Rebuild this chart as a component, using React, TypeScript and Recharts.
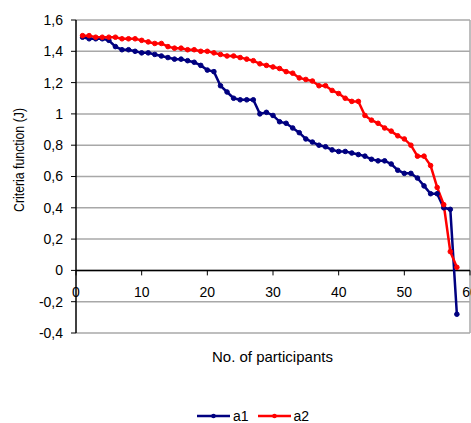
import React from "react";
import {
  LineChart,
  Line,
  XAxis,
  YAxis,
  CartesianGrid,
  ReferenceLine,
} from "recharts";

// participant number (x) and criteria function values per run
const participants = [
  1, 2, 3, 4, 5, 6, 7, 8, 9, 10, 11, 12, 13, 14, 15, 16, 17, 18, 19, 20,
  21, 22, 23, 24, 25, 26, 27, 28, 29, 30, 31, 32, 33, 34, 35, 36, 37, 38, 39, 40,
  41, 42, 43, 44, 45, 46, 47, 48, 49, 50, 51, 52, 53, 54, 55, 56, 57, 58,
];

const a1 = [
  1.49, 1.48, 1.48, 1.48, 1.47, 1.43, 1.41, 1.41, 1.4, 1.39, 1.39, 1.38, 1.37, 1.36, 1.35, 1.35, 1.34, 1.33, 1.31, 1.28,
  1.27, 1.18, 1.14, 1.1, 1.09, 1.09, 1.09, 1.0, 1.01, 0.99, 0.95, 0.94, 0.91, 0.88, 0.84, 0.82, 0.8, 0.79, 0.77, 0.76,
  0.76, 0.75, 0.74, 0.73, 0.71, 0.7, 0.7, 0.68, 0.64, 0.62, 0.62, 0.59, 0.54, 0.49, 0.49, 0.4, 0.39, -0.28,
];

const a2 = [
  1.5, 1.5, 1.49, 1.49, 1.49, 1.49, 1.48, 1.48, 1.48, 1.47, 1.46, 1.45, 1.45, 1.43, 1.42, 1.42, 1.41, 1.41, 1.4, 1.4,
  1.39, 1.38, 1.37, 1.37, 1.36, 1.35, 1.34, 1.32, 1.31, 1.3, 1.29, 1.27, 1.26, 1.23, 1.22, 1.21, 1.18, 1.18, 1.15, 1.13,
  1.1, 1.08, 1.08, 0.99, 0.96, 0.94, 0.91, 0.89, 0.86, 0.84, 0.8, 0.73, 0.73, 0.67, 0.53, 0.42, 0.12, 0.02,
];

const xTicks = [0, 10, 20, 30, 40, 50, 60];
const yTicks = [-0.4, -0.2, 0, 0.2, 0.4, 0.6, 0.8, 1, 1.2, 1.4, 1.6];

const data = participants.map((n, i) => ({ n, a1: a1[i], a2: a2[i] }));

const FONT = "'Liberation Sans', Arial, sans-serif";
const TOP = 20;
const PLOT_H = 313;
// pixel row of the y = 0 line, where excel puts the category axis
const ZERO_Y = TOP + PLOT_H * (1.6 / 2.0);

const fmtY = (v: number) => {
  const s = (Math.round(v * 10) / 10).toString();
  return s.replace(".", ",");
};

const XTick = (props: any) => {
  const { x, payload } = props;
  return (
    <g>
      <line x1={x} x2={x} y1={ZERO_Y} y2={ZERO_Y + 5} stroke="#000" strokeWidth={1} />
      <text x={x} y={ZERO_Y + 27} textAnchor="middle" fontSize={14} fontFamily={FONT} fill="#000">
        {payload.value}
      </text>
    </g>
  );
};

const YLabel = () => (
  <text
    x={24}
    y={160}
    transform="rotate(-90 24 160)"
    textAnchor="middle"
    fontSize={14}
    fontFamily={FONT}
    fill="#000"
    textLength={104}
    lengthAdjust="spacingAndGlyphs"
  >
    Criteria function (J)
  </text>
);

const series = [
  { name: "a1", color: "#000080" },
  { name: "a2", color: "#ff0000" },
];

export default function App() {
  return (
    <div style={{ position: "absolute", left: 0, top: 0, width: 471, height: 423, background: "#fff", overflow: "hidden" }}>
      <LineChart width={471} height={423} data={data} margin={{ top: TOP, right: 1, left: 0, bottom: 60 }}>
        <CartesianGrid horizontal vertical={false} stroke="#a8a8a8" strokeWidth={1.5} />
        <XAxis
          dataKey="n"
          type="number"
          domain={[0, 60]}
          ticks={xTicks}
          axisLine={false}
          tickLine={false}
          height={30}
          tick={<XTick />}
          interval={0}
        />
        <YAxis
          type="number"
          domain={[-0.4, 1.6]}
          ticks={yTicks}
          width={76}
          interval={0}
          tickFormatter={fmtY}
          tickSize={5}
          tickMargin={8}
          axisLine={{ stroke: "#000", strokeWidth: 1.5 }}
          tickLine={{ stroke: "#000" }}
          tick={{ fontSize: 14, fontFamily: FONT, fill: "#000" }}
          label={<YLabel />}
        />
        <ReferenceLine x={60} stroke="#a8a8a8" strokeWidth={1.5} />
        <ReferenceLine y={0} stroke="#000" strokeWidth={1.5} />
        <Line
          type="linear"
          dataKey="a1"
          stroke="#000080"
          strokeWidth={2.5}
          dot={{ r: 2.3, fill: "#000080", stroke: "#000080", strokeWidth: 1 }}
          isAnimationActive={false}
        />
        <Line
          type="linear"
          dataKey="a2"
          stroke="#ff0000"
          strokeWidth={2.5}
          dot={{ r: 2.3, fill: "#ff0000", stroke: "#ff0000", strokeWidth: 1 }}
          isAnimationActive={false}
        />
      </LineChart>
      <div
        style={{
          position: "absolute",
          top: 348,
          left: 212,
          fontFamily: FONT,
          fontSize: 15,
          whiteSpace: "nowrap",
        }}
      >
        No. of participants
      </div>
      <div
        style={{
          position: "absolute",
          top: 408,
          left: 197,
          display: "flex",
          fontFamily: FONT,
          fontSize: 14,
          lineHeight: "16px",
        }}
      >
        {series.map((it) => (
          <div key={it.name} style={{ display: "flex", alignItems: "center", marginRight: 9 }}>
            <svg width={33} height={8}>
              <line x1={0} x2={33} y1={4} y2={4} stroke={it.color} strokeWidth={2.5} />
              <circle cx={16.5} cy={4} r={2.3} fill={it.color} />
            </svg>
            <span style={{ marginLeft: 3 }}>{it.name}</span>
          </div>
        ))}
      </div>
    </div>
  );
}
